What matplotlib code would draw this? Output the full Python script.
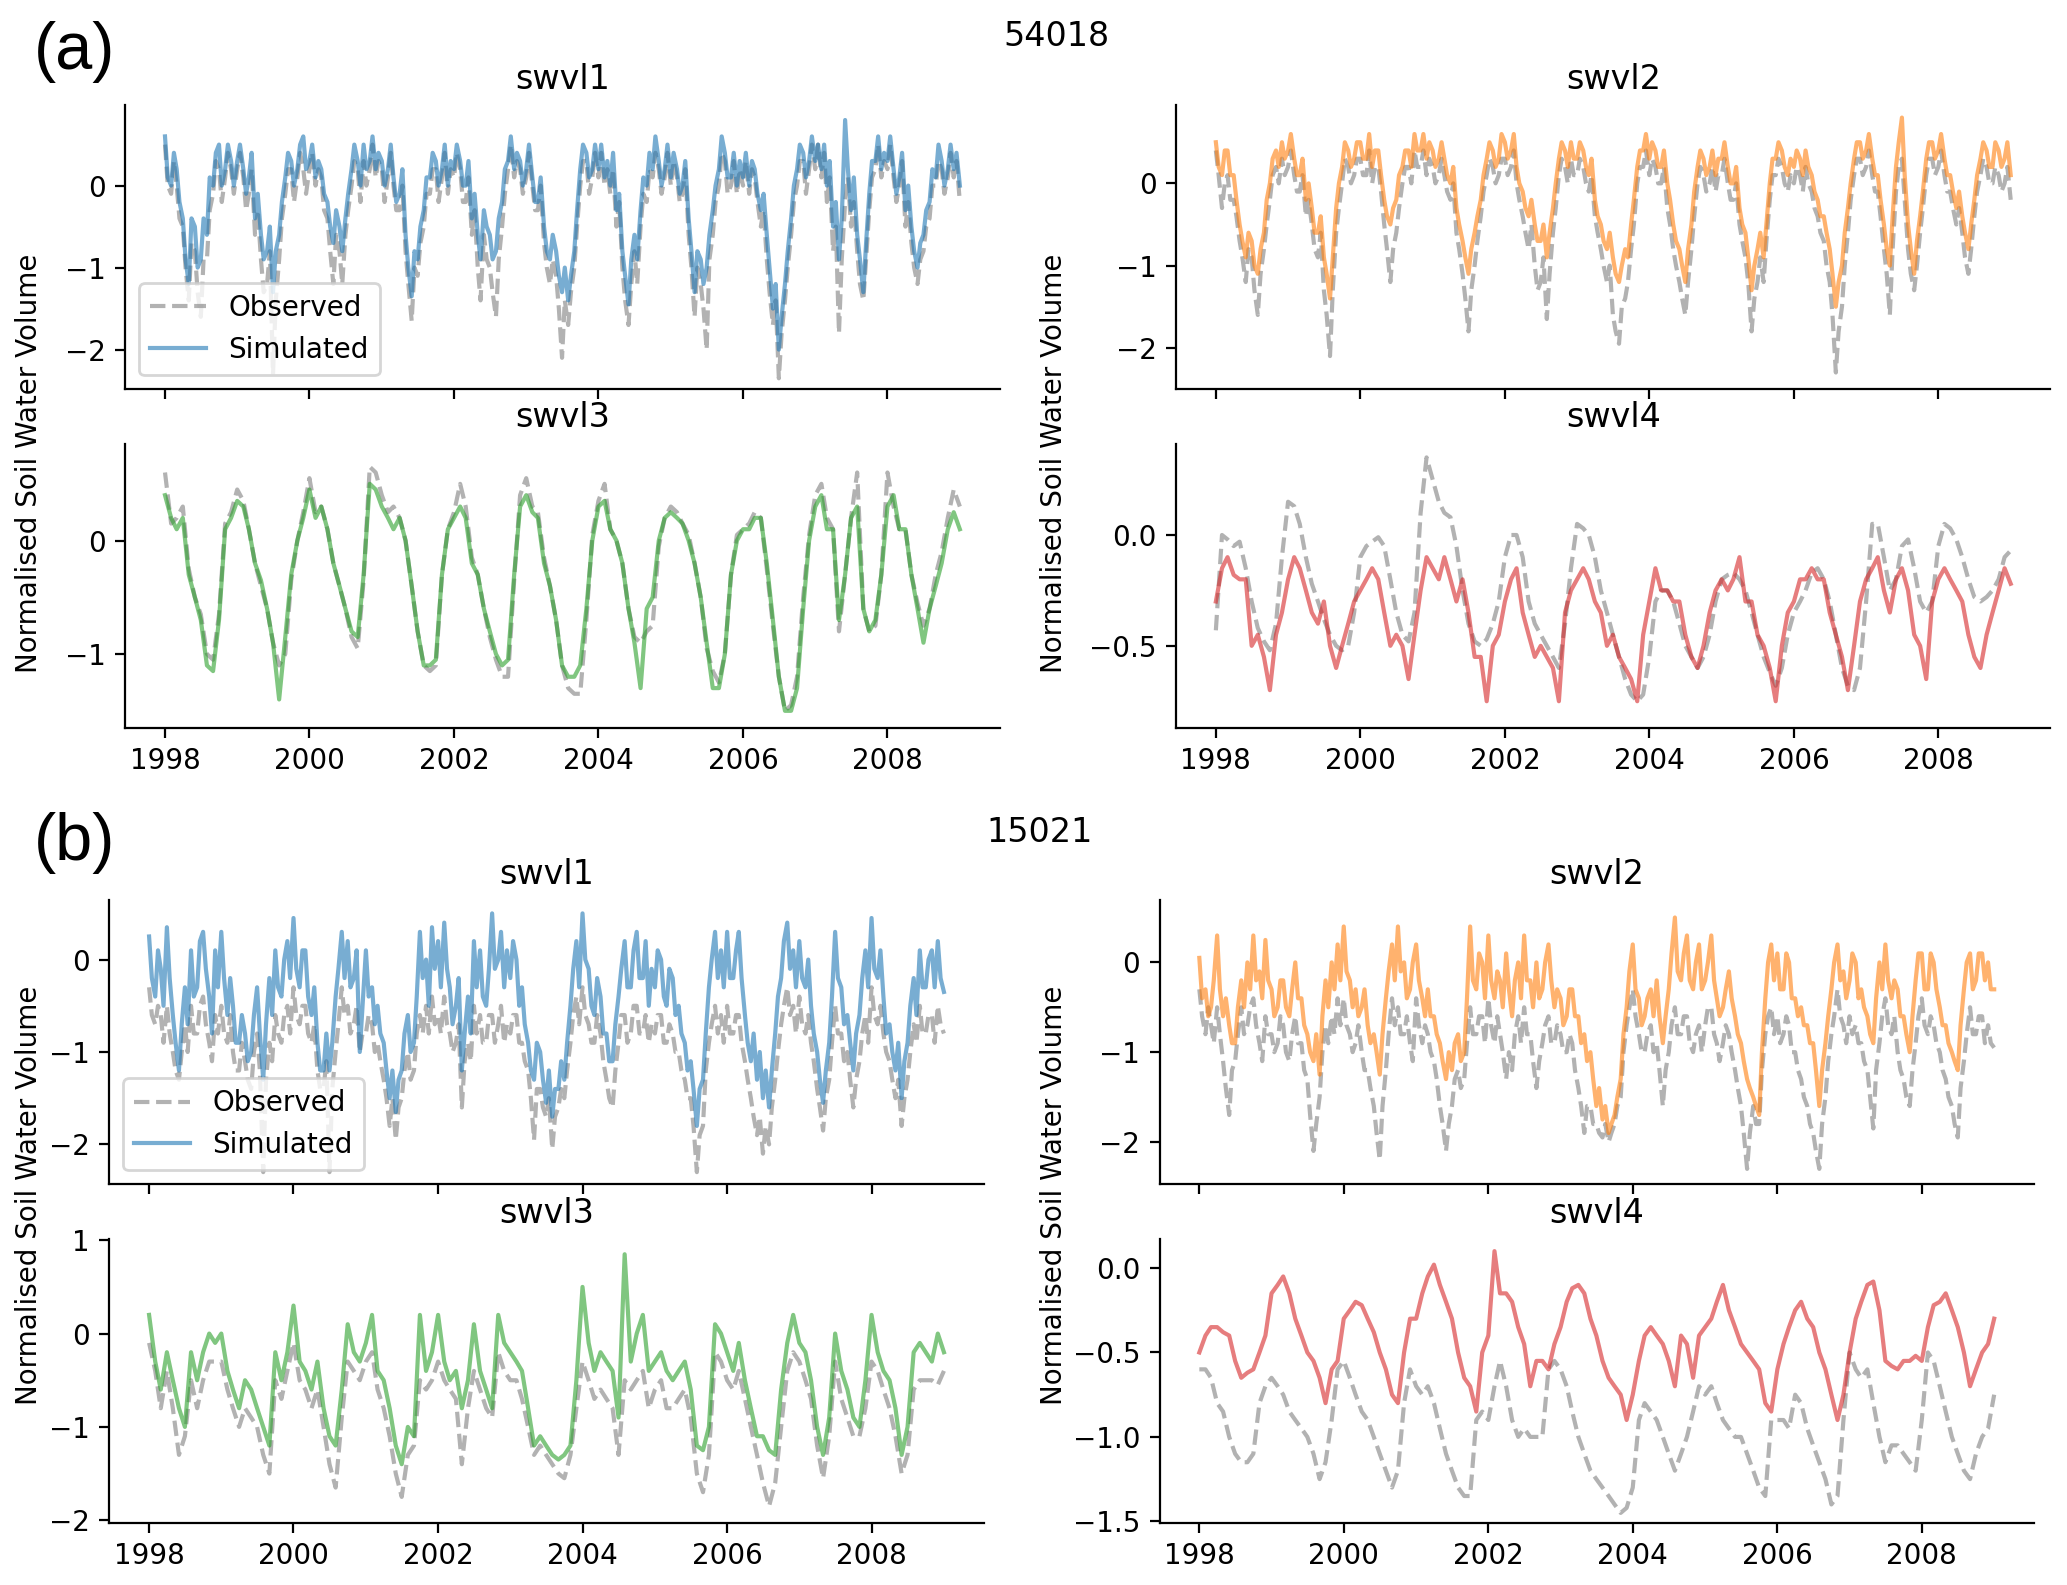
"""Observed vs simulated normalised soil water volume, stations 54018 and 15021."""
import matplotlib
matplotlib.use("Agg")
import matplotlib.pyplot as plt
import matplotlib.dates as mdates
import numpy as np
import pandas as pd

plt.rcParams['font.family'] = ['DejaVu Sans']

layers = ['swvl1', 'swvl2', 'swvl3', 'swvl4']
layer_colors = ['tab:blue', 'tab:orange', 'tab:green', 'tab:red']

# values, starting Jan 1998 and ending Jan 2009.
# swvl1/swvl2 are twice-monthly (1st, 15th), swvl3/swvl4 monthly.
# ---- station 54018 ----
obs_54018_swvl1 = [
    0.5, 0.0, -0.1, 0.3, 0.0, -0.4, -0.5, -1.0, -1.4, -0.7, -0.8, -1.3,
    -1.6, -0.9, -0.9, -0.3, -0.1, 0.3, 0.2, -0.2, 0.1, 0.4, 0.2, -0.1,
    0.2, 0.4, 0.1, -0.3, -0.1, 0.2, -0.6, -0.3, -0.9, -1.3, -1.2, -0.8,
    -2.3, -1.4, -0.9, -0.4, -0.1, 0.2, 0.2, -0.2, 0.1, 0.4, 0.2, -0.1,
    0.2, 0.4, 0.0, 0.2, 0.1, -0.3, -0.4, -0.8, -1.2, -0.6, -0.8, -1.2,
    -0.6, -0.3, 0.0, 0.3, 0.2, -0.2, 0.3, 0.0, 0.2, 0.5, 0.1, 0.3,
    0.2, -0.2, 0.1, 0.4, 0.0, -0.3, -0.3, 0.0, -0.8, -1.2, -1.65, -1.0,
    -1.1, -0.7, -0.5, -0.1, -0.1, 0.2, 0.2, -0.2, 0.1, 0.4, -0.1, 0.2,
    0.1, 0.4, 0.2, -0.2, -0.2, 0.1, -0.6, -0.3, -1.0, -1.4, -0.6, -0.9,
    -1.0, -1.3, -1.6, -0.9, -0.5, -0.1, 0.2, 0.5, 0.1, 0.3, 0.2, -0.1,
    0.1, 0.4, 0.0, -0.3, -0.3, 0.0, -0.7, -1.0, -1.2, -0.9, -1.1, -1.5,
    -2.1, -1.4, -1.7, -1.3, -1.0, -0.5, 0.0, 0.3, 0.3, -0.1, 0.1, 0.4,
    0.1, 0.4, 0.0, 0.2, -0.1, 0.2, -0.5, -0.2, -1.0, -1.4, -1.7, -1.2,
    -0.8, -1.2, -0.5, -0.1, -0.2, 0.2, 0.1, 0.4, 0.2, -0.1, 0.1, 0.4,
    0.0, 0.3, 0.1, -0.2, -0.1, 0.2, -0.6, -1.0, -1.6, -1.0, -1.2, -1.5,
    -2.0, -0.9, -0.6, -0.2, 0.0, 0.4, 0.3, -0.1, 0.0, 0.3, -0.1, 0.2,
    0.0, 0.3, -0.1, 0.2, 0.1, -0.2, -0.5, -0.3, -0.9, -1.3, -1.7, -1.4,
    -2.35, -1.8, -1.4, -1.0, -0.6, -0.2, 0.0, 0.3, 0.3, -0.1, 0.2, 0.5,
    0.2, 0.5, 0.1, 0.4, -0.2, 0.1, -0.8, -0.5, -1.8, -0.9, -0.2, 0.1,
    -0.5, -0.2, -0.8, -1.2, -1.4, -0.9, -0.3, 0.1, 0.2, 0.5, 0.1, 0.3,
    0.2, 0.5, 0.1, -0.2, 0.0, 0.3, -0.5, -0.2, -0.7, -1.0, -1.2, -0.9,
    -0.8, -0.5, -0.4, 0.0, 0.0, 0.3, 0.2, -0.1, 0.1, 0.4, 0.1, 0.3,
    -0.2]
sim_54018_swvl1 = [
    0.6, 0.1, 0.0, 0.4, 0.2, -0.2, -0.4, -0.9, -1.2, -0.4, -0.5, -1.0,
    -0.9, -0.4, -0.6, 0.1, 0.0, 0.4, 0.5, 0.0, 0.2, 0.5, 0.3, 0.0,
    0.3, 0.5, 0.2, -0.1, 0.1, 0.4, -0.4, -0.1, -0.6, -0.9, -0.8, -0.5,
    -1.3, -0.8, -0.6, -0.2, 0.1, 0.4, 0.3, 0.0, 0.2, 0.5, 0.6, 0.2,
    0.3, 0.5, 0.1, 0.3, 0.2, -0.1, -0.2, -0.5, -0.7, -0.3, -0.5, -0.8,
    -0.4, -0.1, 0.2, 0.5, 0.3, 0.0, 0.5, 0.2, 0.3, 0.6, 0.2, 0.4,
    0.3, 0.0, 0.2, 0.5, 0.1, -0.2, -0.1, 0.2, -0.6, -1.0, -1.35, -0.8,
    -0.9, -0.5, -0.3, 0.1, 0.1, 0.4, 0.3, 0.0, 0.2, 0.5, 0.0, 0.3,
    0.2, 0.5, 0.3, 0.0, 0.0, 0.3, -0.4, -0.1, -0.6, -0.9, -0.3, -0.5,
    -0.6, -0.9, -0.8, -0.4, -0.2, 0.2, 0.3, 0.6, 0.2, 0.4, 0.3, 0.0,
    0.2, 0.5, 0.1, -0.2, -0.2, 0.1, -0.5, -0.8, -0.9, -0.6, -0.8, -1.1,
    -1.3, -1.0, -1.4, -1.1, -0.8, -0.3, 0.2, 0.5, 0.4, 0.1, 0.2, 0.5,
    0.2, 0.5, 0.1, 0.3, 0.0, 0.4, -0.3, -0.1, -0.8, -1.1, -1.45, -0.9,
    -0.6, -0.9, -0.3, 0.1, 0.0, 0.4, 0.2, 0.6, 0.3, 0.0, 0.2, 0.5,
    0.1, 0.4, 0.2, -0.1, 0.0, 0.3, -0.4, -0.8, -1.3, -0.8, -0.9, -1.2,
    -1.0, -0.6, -0.3, 0.0, 0.2, 0.6, 0.4, 0.1, 0.1, 0.4, 0.0, 0.3,
    0.1, 0.4, 0.0, 0.3, 0.2, -0.1, -0.3, -0.1, -0.6, -1.0, -1.5, -1.2,
    -2.0, -1.6, -1.2, -0.8, -0.4, 0.0, 0.2, 0.5, 0.4, 0.1, 0.3, 0.6,
    0.3, 0.5, 0.2, 0.5, 0.0, 0.3, -0.5, -0.2, -0.9, -0.4, 0.8, 0.2,
    -0.3, 0.1, -0.6, -0.9, -1.3, -0.7, -0.1, 0.3, 0.3, 0.6, 0.2, 0.4,
    0.3, 0.6, 0.2, -0.1, 0.1, 0.4, -0.3, 0.0, -0.5, -0.8, -1.0, -0.7,
    -0.6, -0.3, -0.2, 0.2, 0.1, 0.5, 0.3, 0.0, 0.2, 0.5, 0.2, 0.4,
    0.0]
obs_54018_swvl2 = [
    0.4, 0.1, -0.3, 0.0, 0.1, -0.2, -0.2, -0.4, -0.7, -0.9, -1.2, -0.8,
    -0.9, -1.3, -1.6, -1.1, -0.8, -0.5, -0.2, 0.1, 0.2, 0.0, 0.3, 0.1,
    0.2, 0.4, 0.1, -0.1, -0.1, 0.1, -0.4, -0.2, -0.5, -0.8, -0.9, -0.6,
    -1.3, -1.6, -2.1, -1.3, -0.6, -0.3, 0.0, 0.3, 0.2, 0.0, 0.1, 0.3,
    0.3, 0.1, 0.1, 0.4, 0.0, 0.2, 0.2, -0.1, -0.5, -0.8, -1.2, -0.8,
    -0.6, -0.3, 0.0, 0.2, 0.2, 0.0, 0.4, 0.2, 0.2, 0.4, 0.1, 0.3,
    0.2, 0.0, 0.1, 0.3, 0.1, -0.1, -0.2, 0.0, -0.6, -0.8, -1.1, -1.4,
    -1.8, -1.3, -1.0, -0.7, -0.4, -0.1, 0.1, 0.3, 0.2, 0.0, 0.1, 0.3,
    0.3, 0.1, 0.2, 0.4, 0.0, -0.2, -0.4, -0.6, -0.8, -0.5, -1.0, -1.3,
    -1.2, -0.9, -1.65, -1.1, -0.6, -0.3, 0.1, 0.3, 0.2, 0.0, 0.3, 0.1,
    0.1, 0.3, 0.2, 0.0, -0.1, 0.1, -0.4, -0.6, -0.8, -1.0, -1.2, -1.0,
    -1.6, -1.8, -1.95, -1.5, -1.4, -1.2, -0.8, -0.5, 0.0, 0.2, 0.2, 0.4,
    0.1, 0.3, 0.2, 0.0, 0.0, 0.2, -0.3, -0.5, -0.8, -1.0, -1.2, -1.4,
    -1.6, -1.2, -0.8, -0.4, 0.0, 0.2, 0.1, -0.1, 0.0, 0.2, -0.1, 0.1,
    0.1, 0.3, 0.0, -0.2, -0.2, 0.0, -0.5, -0.7, -0.9, -1.2, -1.8, -1.4,
    -1.2, -0.9, -1.2, -0.7, -0.2, 0.1, 0.1, 0.3, 0.2, 0.0, -0.1, 0.1,
    0.0, 0.2, 0.1, -0.1, 0.2, 0.0, -0.1, -0.3, -0.4, -0.6, -0.7, -1.0,
    -1.2, -1.6, -2.3, -1.8, -1.5, -1.0, -0.6, -0.2, 0.1, 0.3, 0.3, 0.1,
    0.2, 0.4, 0.1, -0.1, -0.1, -0.4, -0.8, -1.1, -1.6, -0.8, -0.1, 0.2,
    0.3, -0.2, -0.8, -1.1, -1.3, -1.0, -0.6, -0.3, 0.1, 0.3, 0.3, 0.1,
    0.2, 0.4, 0.1, -0.1, -0.1, -0.3, -0.5, -0.3, -0.6, -0.9, -1.1, -0.8,
    -0.4, -0.1, 0.1, 0.3, 0.2, 0.0, 0.0, 0.2, 0.1, -0.1, 0.0, 0.2,
    -0.2]
sim_54018_swvl2 = [
    0.5, 0.2, 0.1, 0.4, 0.4, 0.1, 0.1, -0.2, -0.5, -0.7, -0.9, -0.6,
    -0.7, -1.0, -1.1, -0.8, -0.6, -0.2, 0.0, 0.3, 0.4, 0.2, 0.5, 0.3,
    0.4, 0.6, 0.3, 0.1, 0.1, 0.3, -0.2, 0.0, -0.3, -0.6, -0.6, -0.4,
    -0.9, -1.1, -1.4, -0.9, -0.3, 0.0, 0.2, 0.5, 0.4, 0.2, 0.3, 0.5,
    0.5, 0.3, 0.3, 0.6, 0.2, 0.4, 0.4, 0.1, -0.2, -0.4, -0.5, -0.3,
    -0.2, 0.1, 0.2, 0.4, 0.4, 0.2, 0.6, 0.4, 0.4, 0.6, 0.3, 0.5,
    0.4, 0.2, 0.3, 0.5, 0.3, 0.1, 0.0, 0.2, -0.3, -0.5, -0.7, -0.9,
    -1.1, -0.8, -0.6, -0.4, -0.2, 0.1, 0.3, 0.5, 0.4, 0.2, 0.3, 0.6,
    0.5, 0.3, 0.4, 0.6, 0.2, 0.0, -0.1, -0.3, -0.4, -0.2, -0.5, -0.7,
    -0.7, -0.5, -0.9, -0.6, -0.3, 0.0, 0.3, 0.5, 0.4, 0.2, 0.5, 0.3,
    0.3, 0.5, 0.4, 0.2, 0.1, 0.3, -0.2, -0.4, -0.5, -0.7, -0.8, -0.6,
    -0.9, -1.1, -1.2, -1.0, -0.8, -0.9, -0.5, -0.2, 0.2, 0.4, 0.4, 0.6,
    0.3, 0.5, 0.4, 0.2, 0.2, 0.4, 0.0, -0.2, -0.5, -0.7, -0.8, -1.0,
    -1.2, -0.8, -0.5, -0.1, 0.2, 0.4, 0.3, 0.1, 0.2, 0.4, 0.1, 0.3,
    0.3, 0.5, 0.2, 0.0, 0.0, 0.2, -0.3, -0.5, -0.6, -0.9, -1.3, -1.0,
    -0.8, -0.6, -0.9, -0.5, 0.0, 0.3, 0.3, 0.5, 0.4, 0.2, 0.1, 0.3,
    0.2, 0.4, 0.3, 0.1, 0.4, 0.2, 0.1, -0.1, -0.2, -0.4, -0.4, -0.6,
    -0.8, -1.1, -1.5, -1.2, -1.0, -0.6, -0.3, 0.0, 0.3, 0.5, 0.5, 0.3,
    0.4, 0.6, 0.3, 0.1, 0.1, -0.2, -0.5, -0.8, -1.0, -0.4, 0.2, 0.5,
    0.8, 0.1, -0.5, -0.8, -1.1, -0.7, -0.4, -0.1, 0.3, 0.5, 0.5, 0.3,
    0.4, 0.6, 0.3, 0.1, 0.1, -0.1, -0.3, -0.1, -0.4, -0.6, -0.8, -0.5,
    -0.2, 0.1, 0.3, 0.5, 0.4, 0.2, 0.2, 0.5, 0.4, 0.2, 0.3, 0.5,
    0.1]
obs_54018_swvl3 = [
    0.6, 0.15, 0.2, 0.3, -0.25, -0.5, -0.65, -1.0, -1.05, -0.65, 0.15, 0.25,
    0.45, 0.35, 0.1, -0.2, -0.4, -0.6, -0.9, -1.1, -1.0, -0.35, 0.0, 0.25,
    0.55, 0.25, 0.3, 0.1, -0.2, -0.4, -0.6, -0.85, -0.95, -0.35, 0.65, 0.6,
    0.4, 0.25, 0.3, 0.2, 0.0, -0.4, -0.8, -1.1, -1.15, -1.1, -0.3, 0.1,
    0.25, 0.5, 0.3, -0.15, -0.3, -0.6, -0.85, -1.05, -1.2, -1.2, -0.35, 0.4,
    0.55, 0.3, 0.25, -0.15, -0.4, -0.7, -1.1, -1.3, -1.35, -1.35, -0.7, 0.05,
    0.35, 0.5, 0.1, 0.0, -0.2, -0.6, -0.85, -0.9, -0.8, -0.75, -0.05, 0.2,
    0.3, 0.25, 0.15, 0.05, -0.2, -0.5, -0.95, -1.15, -1.25, -1.0, -0.3, 0.05,
    0.1, 0.15, 0.25, 0.2, -0.25, -0.75, -1.2, -1.5, -1.45, -1.2, -0.5, 0.05,
    0.4, 0.5, 0.2, 0.1, -0.8, -0.3, 0.2, 0.6, -0.6, -0.8, -0.75, -0.3,
    0.6, 0.3, 0.1, 0.1, -0.3, -0.55, -0.75, -0.6, -0.3, -0.1, 0.2, 0.45,
    0.3]
sim_54018_swvl3 = [
    0.4, 0.2, 0.1, 0.2, -0.3, -0.5, -0.7, -1.1, -1.15, -0.7, 0.1, 0.2,
    0.35, 0.3, 0.1, -0.2, -0.35, -0.6, -0.9, -1.4, -0.85, -0.3, 0.0, 0.2,
    0.45, 0.2, 0.3, 0.1, -0.2, -0.4, -0.6, -0.8, -0.85, -0.3, 0.5, 0.45,
    0.3, 0.2, 0.1, 0.2, 0.0, -0.4, -0.8, -1.1, -1.1, -1.05, -0.3, 0.1,
    0.2, 0.3, 0.2, -0.2, -0.3, -0.6, -0.8, -1.0, -1.1, -1.05, -0.3, 0.3,
    0.4, 0.25, 0.2, -0.2, -0.4, -0.7, -1.1, -1.2, -1.2, -1.1, -0.6, 0.0,
    0.3, 0.35, 0.1, 0.0, -0.2, -0.6, -0.9, -1.3, -0.6, -0.5, 0.0, 0.2,
    0.25, 0.2, 0.15, 0.0, -0.2, -0.5, -0.9, -1.3, -1.3, -1.0, -0.3, 0.0,
    0.1, 0.1, 0.2, 0.2, -0.2, -0.7, -1.2, -1.5, -1.5, -1.3, -0.6, 0.0,
    0.3, 0.4, 0.1, 0.1, -0.7, -0.3, 0.2, 0.3, -0.6, -0.8, -0.7, -0.3,
    0.3, 0.4, 0.1, 0.1, -0.3, -0.6, -0.9, -0.6, -0.4, -0.2, 0.1, 0.25,
    0.1]
obs_54018_swvl4 = [
    -0.43, 0.0, -0.02, -0.05, -0.03, -0.15, -0.3, -0.42, -0.48, -0.52, -0.4, -0.1,
    0.15, 0.13, 0.05, -0.1, -0.22, -0.3, -0.38, -0.45, -0.5, -0.52, -0.5, -0.35,
    -0.1, -0.05, -0.03, -0.01, -0.05, -0.2, -0.35, -0.45, -0.48, -0.35, 0.1, 0.35,
    0.25, 0.15, 0.1, 0.08, -0.05, -0.25, -0.4, -0.48, -0.5, -0.47, -0.4, -0.3,
    -0.1, 0.0, 0.0, -0.1, -0.3, -0.4, -0.45, -0.5, -0.55, -0.6, -0.4, -0.15,
    0.05, 0.03, 0.0, -0.1, -0.25, -0.35, -0.45, -0.55, -0.65, -0.72, -0.75, -0.72,
    -0.55, -0.3, -0.25, -0.25, -0.3, -0.4, -0.5, -0.55, -0.6, -0.55, -0.45, -0.3,
    -0.2, -0.18, -0.17, -0.2, -0.25, -0.35, -0.45, -0.55, -0.62, -0.68, -0.6, -0.45,
    -0.35, -0.3, -0.25, -0.17, -0.15, -0.2, -0.3, -0.45, -0.6, -0.68, -0.7, -0.6,
    -0.3, 0.05, 0.05, -0.1, -0.25, -0.2, -0.05, -0.02, -0.15, -0.3, -0.35, -0.3,
    -0.05, 0.05, 0.03, -0.02, -0.1, -0.2, -0.28, -0.3, -0.28, -0.25, -0.2, -0.1,
    -0.07]
sim_54018_swvl4 = [
    -0.3, -0.15, -0.1, -0.18, -0.2, -0.2, -0.5, -0.45, -0.55, -0.7, -0.45, -0.35,
    -0.2, -0.1, -0.15, -0.25, -0.35, -0.4, -0.3, -0.5, -0.6, -0.5, -0.4, -0.3,
    -0.25, -0.2, -0.15, -0.2, -0.35, -0.5, -0.45, -0.5, -0.65, -0.45, -0.25, -0.1,
    -0.15, -0.2, -0.1, -0.2, -0.3, -0.2, -0.35, -0.55, -0.55, -0.75, -0.5, -0.45,
    -0.3, -0.2, -0.15, -0.35, -0.45, -0.55, -0.5, -0.55, -0.6, -0.75, -0.35, -0.25,
    -0.2, -0.15, -0.2, -0.3, -0.35, -0.5, -0.45, -0.55, -0.6, -0.65, -0.75, -0.45,
    -0.3, -0.15, -0.25, -0.25, -0.3, -0.3, -0.45, -0.55, -0.6, -0.5, -0.35, -0.25,
    -0.2, -0.25, -0.2, -0.1, -0.3, -0.3, -0.45, -0.5, -0.6, -0.75, -0.5, -0.35,
    -0.3, -0.2, -0.2, -0.15, -0.2, -0.2, -0.35, -0.45, -0.55, -0.7, -0.5, -0.3,
    -0.2, -0.15, -0.1, -0.25, -0.35, -0.2, -0.15, -0.25, -0.45, -0.5, -0.65, -0.3,
    -0.2, -0.15, -0.2, -0.25, -0.3, -0.45, -0.55, -0.6, -0.45, -0.35, -0.25, -0.15,
    -0.22]

# ---- station 15021 ----
obs_15021_swvl1 = [
    -0.3, -0.6, -0.7, -0.5, -0.6, -0.9, -0.5, -0.8, -1.0, -1.2, -1.3, -1.0,
    -0.7, -1.0, -0.5, -0.8, -0.8, -0.5, -0.4, -0.7, -0.9, -1.1, -0.6, -0.8,
    -0.5, -0.8, -0.9, -0.6, -1.0, -1.2, -1.2, -0.9, -1.1, -1.3, -1.4, -1.0,
    -0.8, -1.2, -2.3, -1.3, -0.9, -1.1, -0.6, -0.8, -0.9, -0.6, -0.5, -0.8,
    -0.3, -0.6, -0.7, -0.5, -0.5, -0.8, -0.9, -0.7, -1.2, -1.4, -1.4, -1.1,
    -2.3, -1.4, -1.0, -0.7, -0.3, -0.6, -0.5, -0.8, -0.7, -0.5, -1.0, -0.8,
    -0.8, -0.6, -0.7, -1.0, -0.9, -1.1, -1.3, -1.5, -1.8, -1.5, -1.95, -1.6,
    -1.5, -1.2, -1.0, -1.3, -1.2, -0.8, -0.6, -0.8, -0.5, -0.8, -0.4, -0.7,
    -0.6, -0.8, -0.4, -0.7, -0.8, -1.0, -0.9, -0.7, -1.6, -1.1, -0.9, -1.1,
    -0.5, -0.8, -0.6, -0.9, -0.9, -0.6, -0.6, -0.9, -0.7, -0.5, -0.9, -0.7,
    -0.8, -0.6, -0.6, -0.9, -0.9, -1.1, -1.2, -1.5, -1.95, -1.4, -1.4, -1.6,
    -1.7, -1.5, -2.05, -1.7, -1.6, -1.4, -1.5, -1.2, -0.9, -0.6, -0.4, -0.7,
    -0.3, -0.6, -0.7, -0.9, -0.9, -0.6, -0.8, -1.1, -1.3, -1.5, -1.6, -1.2,
    -0.9, -0.6, -0.6, -0.9, -0.8, -0.5, -0.5, -0.8, -0.8, -0.6, -0.9, -0.7,
    -0.8, -0.6, -0.6, -0.9, -0.9, -0.7, -0.8, -1.0, -1.0, -1.2, -1.3, -1.5,
    -1.5, -1.8, -2.3, -1.9, -1.8, -1.2, -0.9, -0.7, -0.5, -0.8, -0.6, -0.9,
    -0.5, -0.8, -0.8, -0.6, -0.6, -0.9, -1.1, -1.3, -1.5, -1.7, -1.9, -1.7,
    -2.1, -1.8, -2.0, -1.6, -1.3, -1.0, -0.7, -0.5, -0.3, -0.6, -0.5, -0.8,
    -0.4, -0.7, -0.8, -0.6, -0.9, -1.1, -1.4, -1.6, -1.85, -1.5, -1.3, -0.9,
    -0.5, -0.8, -0.8, -1.1, -1.0, -1.3, -1.6, -1.3, -1.1, -0.8, -0.6, -0.9,
    -0.3, -0.6, -0.7, -0.5, -0.8, -1.0, -1.1, -1.3, -1.5, -1.3, -1.8, -1.5,
    -1.3, -1.0, -0.7, -0.9, -0.5, -0.8, -0.8, -0.6, -0.6, -0.9, -0.5, -0.7,
    -0.8]
sim_15021_swvl1 = [
    0.25, -0.2, -0.4, 0.1, -0.1, -0.5, 0.35, -0.2, -0.6, -0.9, -1.2, -0.7,
    -0.3, -0.7, 0.1, -0.4, -0.3, 0.2, 0.3, -0.1, -0.4, -0.8, 0.1, -0.3,
    0.3, -0.2, -0.6, -0.2, -0.5, -0.9, -0.9, -0.6, -0.8, -1.1, -1.0, -0.6,
    -0.3, -0.8, -1.3, -0.7, -0.2, -0.6, 0.1, -0.3, -0.4, 0.0, 0.2, -0.2,
    0.45, -0.1, -0.3, 0.1, 0.1, -0.4, -0.6, -0.3, -0.9, -1.2, -1.2, -0.8,
    -1.2, -0.9, -0.4, -0.1, 0.3, -0.2, 0.2, -0.3, -0.2, 0.1, -1.0, -0.5,
    0.1, -0.4, -0.3, -0.7, -0.5, -0.8, -0.9, -1.2, -1.5, -1.2, -1.65, -1.3,
    -1.2, -0.8, -0.6, -1.0, -0.9, -0.4, 0.3, -0.2, 0.0, -0.5, 0.35, -0.1,
    0.2, -0.3, 0.4, -0.1, -0.3, -0.7, -0.5, -0.2, -1.2, -0.8, -0.4, -0.8,
    0.2, -0.3, 0.1, -0.4, -0.5, -0.1, 0.5, -0.1, 0.0, 0.3, -0.3, 0.1,
    -0.2, 0.2, 0.0, -0.5, -0.3, -0.7, -0.9, -1.2, -1.3, -0.9, -1.0, -1.3,
    -1.55, -1.2, -1.7, -1.4, -1.4, -1.1, -1.3, -0.9, -0.5, -0.1, 0.2, -0.3,
    0.5, 0.0, -0.1, -0.5, -0.6, -0.2, -0.4, -0.8, -0.8, -1.1, -1.1, -0.7,
    -0.4, -0.1, 0.2, -0.3, -0.3, 0.1, 0.3, -0.2, -0.2, 0.2, -0.5, -0.1,
    -0.3, 0.1, 0.0, -0.4, -0.5, -0.1, -0.2, -0.6, -0.5, -0.8, -0.9, -1.2,
    -1.1, -1.4, -1.8, -1.4, -1.3, -0.8, -0.3, 0.0, 0.3, -0.2, 0.1, -0.3,
    0.3, -0.2, -0.2, 0.1, 0.3, -0.2, -0.6, -0.9, -1.1, -0.8, -1.3, -1.0,
    -1.5, -1.2, -1.6, -1.2, -0.8, -0.4, -0.2, 0.2, 0.4, -0.1, 0.1, -0.3,
    0.2, -0.2, -0.3, 0.0, -0.5, -0.8, -1.0, -1.3, -1.55, -1.2, -0.9, -0.4,
    0.3, -0.2, -0.3, -0.7, -0.6, -0.9, -1.2, -0.8, -0.6, -0.2, 0.1, -0.3,
    0.45, -0.1, -0.2, 0.1, -0.4, -0.8, -0.7, -1.0, -1.2, -0.9, -1.5, -1.1,
    -0.9, -0.5, -0.2, -0.6, 0.1, -0.3, -0.3, 0.0, 0.1, -0.3, 0.2, -0.2,
    -0.35]
obs_15021_swvl2 = [
    -0.3, -0.6, -0.8, -0.5, -0.7, -0.9, -0.5, -0.8, -1.1, -1.4, -1.7, -1.2,
    -1.1, -0.8, -0.5, -0.8, -0.7, -0.5, -0.4, -0.7, -0.9, -1.1, -0.6, -0.8,
    -0.8, -1.0, -0.9, -0.6, -0.7, -1.0, -1.1, -0.8, -0.6, -0.9, -0.9, -1.2,
    -1.3, -1.7, -2.1, -1.8, -1.5, -1.0, -0.7, -0.9, -0.6, -0.8, -0.4, -0.7,
    -0.4, -0.7, -0.8, -1.0, -0.9, -0.7, -1.0, -1.2, -1.2, -1.4, -1.6, -1.9,
    -2.2, -1.6, -1.2, -0.8, -0.4, -0.7, -0.5, -0.8, -0.8, -0.6, -0.9, -1.1,
    -0.4, -0.7, -0.9, -0.7, -0.8, -1.0, -1.1, -1.3, -1.6, -1.8, -2.1, -1.8,
    -1.6, -1.3, -1.2, -1.4, -1.3, -0.9, -0.5, -0.8, -0.8, -0.6, -0.6, -0.9,
    -0.4, -0.7, -0.9, -0.6, -0.8, -1.0, -1.3, -1.0, -1.2, -0.8, -0.6, -0.9,
    -0.5, -0.8, -0.8, -1.1, -1.4, -1.1, -0.9, -0.7, -0.6, -0.9, -0.9, -0.7,
    -0.8, -1.0, -1.0, -0.8, -0.9, -1.2, -1.4, -1.6, -1.9, -1.6, -1.6, -1.8,
    -1.8, -1.9, -1.95, -1.8, -2.0, -1.9, -1.8, -1.6, -1.5, -1.0, -0.7, -0.5,
    -0.3, -0.6, -0.8, -1.0, -1.0, -0.8, -0.7, -1.0, -0.9, -1.2, -1.6, -1.2,
    -1.0, -0.7, -0.5, -0.8, -0.8, -0.6, -0.6, -0.9, -1.0, -0.8, -0.7, -1.0,
    -0.7, -0.5, -0.5, -0.8, -0.9, -1.1, -0.9, -0.7, -0.8, -1.0, -1.2, -1.4,
    -1.6, -1.9, -2.3, -1.9, -1.6, -1.8, -1.8, -1.2, -0.8, -0.6, -0.5, -0.8,
    -0.6, -0.9, -0.8, -0.6, -0.7, -1.0, -1.0, -1.2, -1.3, -1.5, -1.6, -1.8,
    -1.9, -2.1, -2.3, -1.8, -1.5, -1.1, -0.8, -0.6, -0.3, -0.6, -0.7, -0.9,
    -0.6, -0.8, -0.7, -0.9, -0.9, -1.1, -1.2, -1.5, -1.85, -1.2, -0.9, -0.6,
    -0.4, -0.7, -0.8, -0.6, -1.0, -1.2, -1.3, -1.5, -1.6, -1.2, -0.9, -0.6,
    -0.4, -0.7, -0.8, -0.6, -0.7, -0.9, -1.0, -1.2, -1.3, -1.5, -1.6, -1.8,
    -1.95, -1.4, -1.1, -0.8, -0.5, -0.8, -0.8, -0.6, -0.6, -0.9, -0.7, -0.9,
    -0.95]
sim_15021_swvl2 = [
    0.05, -0.4, -0.3, -0.6, -0.5, -0.2, 0.3, -0.3, -0.6, -0.4, -0.7, -0.9,
    -0.9, -0.5, -0.2, -0.5, 0.0, -0.3, 0.3, -0.2, -0.1, -0.4, 0.25, -0.2,
    -0.3, -0.6, -0.5, -0.2, -0.2, -0.5, -0.6, -0.3, 0.0, -0.4, -0.4, -0.7,
    -0.8, -1.0, -1.1, -0.8, -1.25, -0.6, -0.2, -0.5, 0.0, -0.3, 0.2, -0.2,
    0.4, -0.1, -0.2, -0.5, -0.3, -0.6, -0.5, -0.3, -0.7, -0.9, -0.8, -1.0,
    -1.25, -0.8, -0.4, -0.1, 0.2, -0.2, 0.4, -0.1, 0.0, -0.4, -0.3, 0.0,
    0.2, -0.2, -0.4, -0.6, -0.3, -0.6, -0.6, -0.8, -0.9, -1.1, -1.3, -1.0,
    -1.2, -0.9, -0.8, -1.1, -1.0, -0.4, 0.4, -0.2, -0.3, 0.1, 0.0, -0.4,
    0.3, -0.2, -0.4, -0.1, -0.2, -0.5, 0.1, -0.3, -0.6, -0.2, 0.0, -0.4,
    0.3, -0.2, -0.2, -0.5, 0.0, -0.4, -0.3, 0.0, 0.2, -0.2, -0.5, -0.3,
    -0.4, -0.7, -0.6, -0.3, -0.3, -0.6, -0.6, -0.9, -0.8, -1.1, -1.0, -1.3,
    -1.6, -1.4, -1.75, -1.6, -1.9, -1.8, -1.7, -1.5, -1.3, -0.8, -0.5, -0.1,
    0.2, -0.3, -0.4, -0.7, -0.6, -0.4, -0.3, -0.6, -0.2, -0.6, -0.9, -0.6,
    -0.3, 0.1, 0.5, -0.1, -0.2, 0.1, 0.3, -0.2, -0.3, 0.0, 0.2, -0.3,
    -0.2, 0.0, 0.3, -0.2, -0.4, -0.6, -0.5, -0.3, -0.1, -0.4, -0.6, -0.8,
    -0.9, -1.1, -1.3, -1.4, -1.5, -1.6, -1.7, -1.0, -0.4, 0.0, 0.2, -0.2,
    0.1, -0.3, -0.3, 0.1, 0.0, -0.4, -0.4, -0.6, -0.5, -0.7, -0.7, -0.9,
    -0.9, -1.2, -1.6, -1.2, -0.9, -0.6, -0.3, 0.0, 0.2, -0.2, -0.1, -0.4,
    -0.2, 0.1, 0.0, -0.4, -0.3, -0.5, -0.6, -0.8, -0.9, -0.4, 0.0, -0.3,
    0.2, -0.2, -0.4, -0.2, -0.3, -0.6, -0.6, -0.8, -1.0, -0.6, -0.2, 0.1,
    0.1, -0.3, -0.3, 0.1, 0.0, -0.3, -0.5, -0.7, -0.7, -0.9, -1.0, -1.1,
    -1.2, -0.7, -0.3, 0.0, 0.1, -0.3, -0.2, 0.1, 0.1, -0.2, 0.0, -0.3,
    -0.3]
obs_15021_swvl3 = [
    -0.1, -0.4, -0.8, -0.4, -0.8, -1.3, -1.1, -0.5, -0.8, -0.5, -0.3, -0.3,
    -0.3, -0.6, -0.8, -1.0, -0.8, -0.9, -1.0, -1.3, -1.5, -0.5, -0.7, -0.4,
    -0.1, -0.5, -0.6, -0.8, -0.6, -1.0, -1.4, -1.65, -0.9, -0.3, -0.4, -0.5,
    -0.3, -0.2, -0.6, -0.8, -1.1, -1.5, -1.75, -1.3, -1.2, -0.5, -0.6, -0.5,
    -0.3, -0.5, -0.6, -0.7, -1.4, -0.8, -0.4, -0.6, -0.8, -0.9, -0.2, -0.4,
    -0.5, -0.5, -0.7, -1.0, -1.3, -1.2, -1.3, -1.4, -1.5, -1.55, -1.3, -0.8,
    -0.3, -0.5, -0.7, -0.6, -0.7, -0.8, -1.3, -0.5, -0.6, -0.5, -0.4, -0.8,
    -0.6, -0.5, -0.8, -0.8, -0.7, -0.6, -0.9, -1.5, -1.7, -1.3, -0.2, -0.3,
    -0.5, -0.6, -0.4, -0.7, -1.0, -1.3, -1.6, -1.85, -1.6, -1.0, -0.4, -0.2,
    -0.3, -0.5, -0.7, -1.2, -1.55, -1.1, -0.3, -0.7, -0.9, -1.1, -1.1, -0.8,
    -0.3, -0.4, -0.6, -0.8, -1.1, -1.5, -1.3, -0.6, -0.5, -0.5, -0.5, -0.55,
    -0.4]
sim_15021_swvl3 = [
    0.2, -0.3, -0.6, -0.2, -0.5, -0.8, -1.0, -0.2, -0.5, -0.2, 0.0, -0.1,
    0.0, -0.4, -0.6, -0.8, -0.5, -0.6, -0.8, -1.0, -1.2, -0.2, -0.5, -0.2,
    0.3, -0.3, -0.4, -0.6, -0.3, -0.8, -1.1, -1.2, -0.6, 0.1, -0.2, -0.3,
    -0.1, 0.2, -0.4, -0.5, -0.8, -1.2, -1.4, -1.0, -1.1, 0.2, -0.4, -0.2,
    0.2, -0.3, -0.5, -0.4, -0.8, -0.5, 0.1, -0.4, -0.6, -0.8, 0.2, -0.1,
    -0.2, -0.3, -0.4, -0.8, -1.2, -1.1, -1.2, -1.3, -1.35, -1.3, -1.2, -0.5,
    0.5, -0.1, -0.4, -0.2, -0.3, -0.4, -0.9, 0.85, -0.3, 0.0, 0.2, -0.4,
    -0.3, -0.2, -0.4, -0.5, -0.4, -0.3, -0.6, -1.2, -1.25, -1.0, 0.1, 0.0,
    -0.2, -0.4, -0.1, -0.5, -0.8, -1.1, -1.1, -1.25, -1.3, -0.6, -0.1, 0.2,
    -0.1, -0.2, -0.5, -1.0, -1.3, -0.9, 0.0, -0.4, -0.6, -0.9, -1.0, -0.5,
    0.2, -0.2, -0.4, -0.5, -0.8, -1.3, -1.0, -0.2, -0.1, -0.2, -0.3, 0.0,
    -0.2]
obs_15021_swvl4 = [
    -0.6, -0.6, -0.65, -0.8, -0.85, -1.0, -1.1, -1.15, -1.15, -1.1, -0.8, -0.7,
    -0.65, -0.7, -0.75, -0.85, -0.9, -0.95, -1.0, -1.1, -1.25, -1.15, -0.9, -0.6,
    -0.55, -0.65, -0.75, -0.85, -0.9, -1.0, -1.1, -1.2, -1.3, -1.2, -0.8, -0.6,
    -0.7, -0.75, -0.7, -0.8, -0.95, -1.1, -1.2, -1.3, -1.35, -1.35, -0.9, -0.85,
    -0.9, -0.7, -0.55, -0.7, -0.9, -1.0, -0.95, -1.0, -1.0, -1.0, -0.6, -0.55,
    -0.6, -0.7, -0.85, -1.0, -1.1, -1.2, -1.25, -1.3, -1.35, -1.4, -1.45, -1.42,
    -1.3, -0.9, -0.8, -0.85, -0.9, -1.0, -1.1, -1.2, -1.1, -1.0, -0.85, -0.7,
    -0.75, -0.7, -0.8, -0.9, -0.95, -1.0, -1.0, -1.1, -1.2, -1.3, -1.35, -0.9,
    -0.9, -0.9, -0.95, -0.75, -0.8, -0.95, -1.05, -1.15, -1.25, -1.4, -1.35, -0.9,
    -0.5, -0.6, -0.65, -0.6, -0.8, -1.0, -1.15, -1.05, -1.05, -1.1, -1.15, -1.2,
    -0.9, -0.5, -0.55, -0.7, -0.85, -1.0, -1.1, -1.2, -1.25, -1.1, -1.0, -0.95,
    -0.75]
sim_15021_swvl4 = [
    -0.5, -0.4, -0.35, -0.35, -0.38, -0.4, -0.55, -0.65, -0.62, -0.6, -0.5, -0.4,
    -0.15, -0.1, -0.05, -0.15, -0.3, -0.4, -0.5, -0.55, -0.65, -0.8, -0.6, -0.55,
    -0.3, -0.25, -0.2, -0.22, -0.3, -0.38, -0.5, -0.6, -0.75, -0.8, -0.5, -0.3,
    -0.3, -0.15, -0.05, 0.02, -0.1, -0.2, -0.3, -0.5, -0.65, -0.7, -0.85, -0.5,
    -0.4, 0.1, -0.15, -0.15, -0.2, -0.35, -0.45, -0.7, -0.55, -0.55, -0.6, -0.45,
    -0.35, -0.2, -0.12, -0.1, -0.15, -0.3, -0.4, -0.55, -0.65, -0.7, -0.75, -0.9,
    -0.75, -0.55, -0.4, -0.35, -0.4, -0.45, -0.55, -0.7, -0.4, -0.45, -0.65, -0.4,
    -0.35, -0.3, -0.2, -0.1, -0.25, -0.35, -0.45, -0.5, -0.55, -0.6, -0.8, -0.85,
    -0.6, -0.45, -0.35, -0.25, -0.2, -0.3, -0.35, -0.5, -0.6, -0.75, -0.9, -0.75,
    -0.5, -0.3, -0.2, -0.1, -0.08, -0.25, -0.55, -0.58, -0.6, -0.55, -0.55, -0.52,
    -0.55, -0.35, -0.22, -0.2, -0.15, -0.25, -0.35, -0.5, -0.7, -0.6, -0.5, -0.45,
    -0.3]

stations = [
    ('54018', '(a)',
     [obs_54018_swvl1, obs_54018_swvl2, obs_54018_swvl3, obs_54018_swvl4],
     [sim_54018_swvl1, sim_54018_swvl2, sim_54018_swvl3, sim_54018_swvl4],
     [(-2.48, 0.98), (-2.5, 0.95), (-1.65, 0.85), (-0.87, 0.41)],
     [[-2, -1, 0], [-2, -1, 0], [-1, 0], [-0.5, 0.0]]),
    ('15021', '(b)',
     [obs_15021_swvl1, obs_15021_swvl2, obs_15021_swvl3, obs_15021_swvl4],
     [sim_15021_swvl1, sim_15021_swvl2, sim_15021_swvl3, sim_15021_swvl4],
     [(-2.43, 0.64), (-2.47, 0.69), (-2.03, 1.01), (-1.51, 0.17)],
     [[-2, -1, 0], [-2, -1, 0], [-2, -1, 0, 1], [-1.5, -1.0, -0.5, 0.0]]),
]


def dates_for(values):
    # twice-monthly series are longer than 140 points
    freq = 'SMS' if len(values) > 140 else 'MS'
    return pd.date_range('1998-01-01', periods=len(values), freq=freq)


fig = plt.figure(figsize=(10.335, 7.925), dpi=200)

# axes rectangles: [left col x, right col x], [top row y, bottom row y]
col_x = [(0.0606, 0.569), (0.0529, 0.561)]
row_y = [(0.7546, 0.5408), (0.2529, 0.0391)]
ax_w, ax_h = 0.423, 0.179
title_pos = [(0.511, 0.977, 0.036, 0.967, 0.708), (0.503, 0.475, 0.036, 0.468, 0.246)]

for s, (name, tag, obs_list, sim_list, ylims, yticks) in enumerate(stations):
    for k in range(4):
        r, c = divmod(k, 2)
        ax = fig.add_axes([col_x[s][c], row_y[s][r], ax_w, ax_h])
        obs = np.array(obs_list[k])
        sim = np.array(sim_list[k])
        ax.plot(dates_for(obs), obs, color='grey', ls='--', lw=1.5, alpha=0.6, label='Observed')
        ax.plot(dates_for(sim), sim, color=layer_colors[k], lw=1.5, alpha=0.6, label='Simulated')
        ax.set_title(layers[k], fontsize=12)
        ax.set_ylim(*ylims[k])
        ax.set_yticks(yticks[k])
        ax.xaxis.set_major_locator(mdates.YearLocator(2))
        ax.xaxis.set_major_formatter(mdates.DateFormatter('%Y'))
        ax.tick_params(labelsize=10)
        if r == 0:
            ax.tick_params(labelbottom=False)
        ax.spines[['top', 'right']].set_visible(False)
        if k == 0:
            ax.legend(loc='lower left', fontsize=10)

    sx, sy, tx, ty, ly = title_pos[s]
    fig.text(sx, sy, name, ha='center', va='center', fontsize=12)
    fig.text(tx, ty, tag, ha='center', va='center', fontsize=24,
             family=['Liberation Sans', 'DejaVu Sans'])
    for lx in (0.014, 0.510):
        fig.text(lx, ly, 'Normalised Soil Water Volume', rotation=90,
                 ha='center', va='center', fontsize=10)

fig.savefig('out.png', dpi=200)
